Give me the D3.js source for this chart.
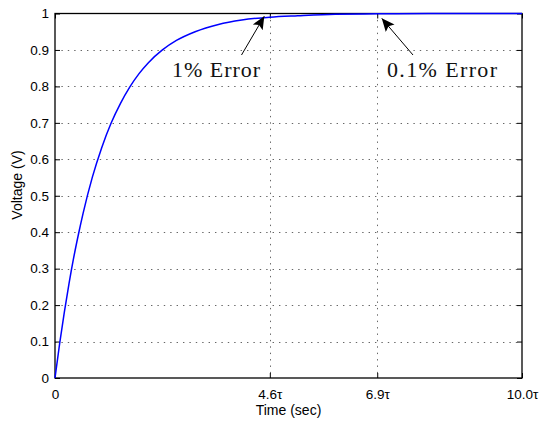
<!DOCTYPE html>
<html>
<head>
<meta charset="utf-8">
<script src="https://cdn.jsdelivr.net/npm/d3@7"></script>
<style>
  html, body { margin: 0; padding: 0; background: #fff; }
  svg { display: block; }
  .tick-label { font-family: "Liberation Sans", Arial, sans-serif; font-size: 13.5px; fill: #000; }
  .axis-title { font-family: "Liberation Sans", Arial, sans-serif; font-size: 14px; fill: #000; }
  .note { font-family: "Liberation Serif", "DejaVu Serif", serif; font-size: 22px; fill: #111; }
</style>
</head>
<body>
<svg id="chart" width="539" height="426"></svg>
<script>
// Capacitor charging curve, time in units of the time constant τ
const timeTau = [0, 0.1, 0.2, 0.3, 0.4, 0.5, 0.6, 0.8, 1.0, 1.2, 1.4, 1.6, 1.8, 2.0,
                 2.3, 2.6, 3.0, 3.5, 4.0, 4.6, 5.2, 6.0, 6.9, 8.0, 9.0, 10.0];
const voltage = [0, 0.095, 0.181, 0.259, 0.330, 0.393, 0.451, 0.551, 0.632, 0.699, 0.753,
                 0.798, 0.835, 0.865, 0.900, 0.926, 0.950, 0.970, 0.982, 0.990, 0.994,
                 0.998, 0.999, 1.0, 1.0, 1.0];

const xTickValues = [0, 4.6, 6.9, 10.0];
const xTickLabels = ["0", "4.6τ", "6.9τ", "10.0τ"];
const yTickValues = [0, 0.1, 0.2, 0.3, 0.4, 0.5, 0.6, 0.7, 0.8, 0.9, 1];
const yTickLabels = ["0", "0.1", "0.2", "0.3", "0.4", "0.5", "0.6", "0.7", "0.8", "0.9", "1"];

// Callouts: text and the point on the curve each arrow points at
const noteText = ["1% Error", "0.1% Error"];
const noteTipT = [4.6, 6.9];
const noteTipV = [0.99, 0.999];

const svg = d3.select("#chart");
const mLeft = 55, mRight = 522, mTop = 13.5, mBottom = 378;

const x = d3.scaleLinear().domain([0, 10]).range([mLeft, mRight]);
const y = d3.scaleLinear().domain([0, 1]).range([mBottom, mTop]);

// Dotted grid
const grid = svg.append("g").attr("stroke", "#666").attr("stroke-width", 1)
  .attr("stroke-dasharray", "1.4,5");
grid.selectAll("line.gy").data(yTickValues.slice(1, -1)).join("line")
  .attr("x1", mLeft).attr("x2", mRight)
  .attr("y1", d => Math.round(y(d)) + 0.5).attr("y2", d => Math.round(y(d)) + 0.5);
grid.selectAll("line.gx").data(xTickValues.slice(1, -1)).join("line")
  .attr("x1", d => Math.round(x(d)) + 0.5).attr("x2", d => Math.round(x(d)) + 0.5)
  .attr("y1", mTop).attr("y2", mBottom);

// Axes with inward ticks on all four sides
const tickLen = 5;
const axL = d3.axisLeft(y).tickValues(yTickValues).tickSize(-tickLen).tickPadding(6)
  .tickFormat((d, i) => yTickLabels[i]);
const axR = d3.axisRight(y).tickValues(yTickValues).tickSize(-tickLen).tickFormat("");
const axB = d3.axisBottom(x).tickValues(xTickValues).tickSize(-tickLen).tickPadding(11)
  .tickFormat((d, i) => xTickLabels[i]);
const axT = d3.axisTop(x).tickValues(xTickValues).tickSize(-tickLen).tickFormat("");

function styleAxis(g) {
  g.attr("font-size", null).attr("font-family", null);
  g.select(".domain").remove();
  g.selectAll(".tick line").attr("stroke", "#000");
  g.selectAll(".tick text").attr("class", "tick-label").style("font-size", "13.5px");
}
svg.append("g").attr("transform", `translate(${mLeft},0)`).call(axL).call(styleAxis);
svg.append("g").attr("transform", `translate(${mRight},0)`).call(axR).call(styleAxis);
svg.append("g").attr("transform", `translate(0,${mBottom})`).call(axB).call(styleAxis);
svg.append("g").attr("transform", `translate(0,${mTop})`).call(axT).call(styleAxis);

// Frame
svg.append("rect").attr("x", mLeft).attr("y", mTop)
  .attr("width", mRight - mLeft).attr("height", mBottom - mTop)
  .attr("fill", "none").attr("stroke", "#000").attr("stroke-width", 1.3);

// Curve
const pts = timeTau.map((t, i) => [t, voltage[i]]);
svg.append("path").datum(pts)
  .attr("fill", "none").attr("stroke", "#0000ff").attr("stroke-width", 1.5)
  .attr("d", d3.line().x(d => x(d[0])).y(d => y(d[1])).curve(d3.curveMonotoneX));

// Axis titles
svg.append("text").attr("class", "axis-title")
  .attr("x", (mLeft + mRight) / 2).attr("y", 415).attr("text-anchor", "middle")
  .text("Time (sec)");
svg.append("text").attr("class", "axis-title")
  .attr("transform", "translate(22,185) rotate(-90)")
  .attr("text-anchor", "middle").text("Voltage (V)");

// Callout arrows and labels
const defs = svg.append("defs");
defs.append("marker").attr("id", "head").attr("viewBox", "0 0 10 10")
  .attr("refX", 10).attr("refY", 5).attr("markerWidth", 13).attr("markerHeight", 13)
  .attr("markerUnits", "userSpaceOnUse").attr("orient", "auto")
  .append("path").attr("d", "M0,0.6 L10,5 L0,9.4 L2,5 Z").attr("fill", "#000");

const tips = [[x(noteTipT[0]) - 5.5, y(noteTipV[0]) - 1], [x(noteTipT[1]) + 4.5, y(noteTipV[1]) + 4.5]];
const tails = [[241.5, 55], [413, 55]];
tips.forEach((tp, i) => {
  svg.append("line").attr("x1", tails[i][0]).attr("y1", tails[i][1])
    .attr("x2", tp[0]).attr("y2", tp[1])
    .attr("stroke", "#000").attr("stroke-width", 1).attr("marker-end", "url(#head)");
});
svg.append("text").attr("class", "note").attr("x", 172).attr("y", 77)
  .attr("textLength", 88).attr("lengthAdjust", "spacing").text(noteText[0]);
svg.append("text").attr("class", "note").attr("x", 387).attr("y", 77)
  .attr("textLength", 110).attr("lengthAdjust", "spacing").text(noteText[1]);
</script>
</body>
</html>
